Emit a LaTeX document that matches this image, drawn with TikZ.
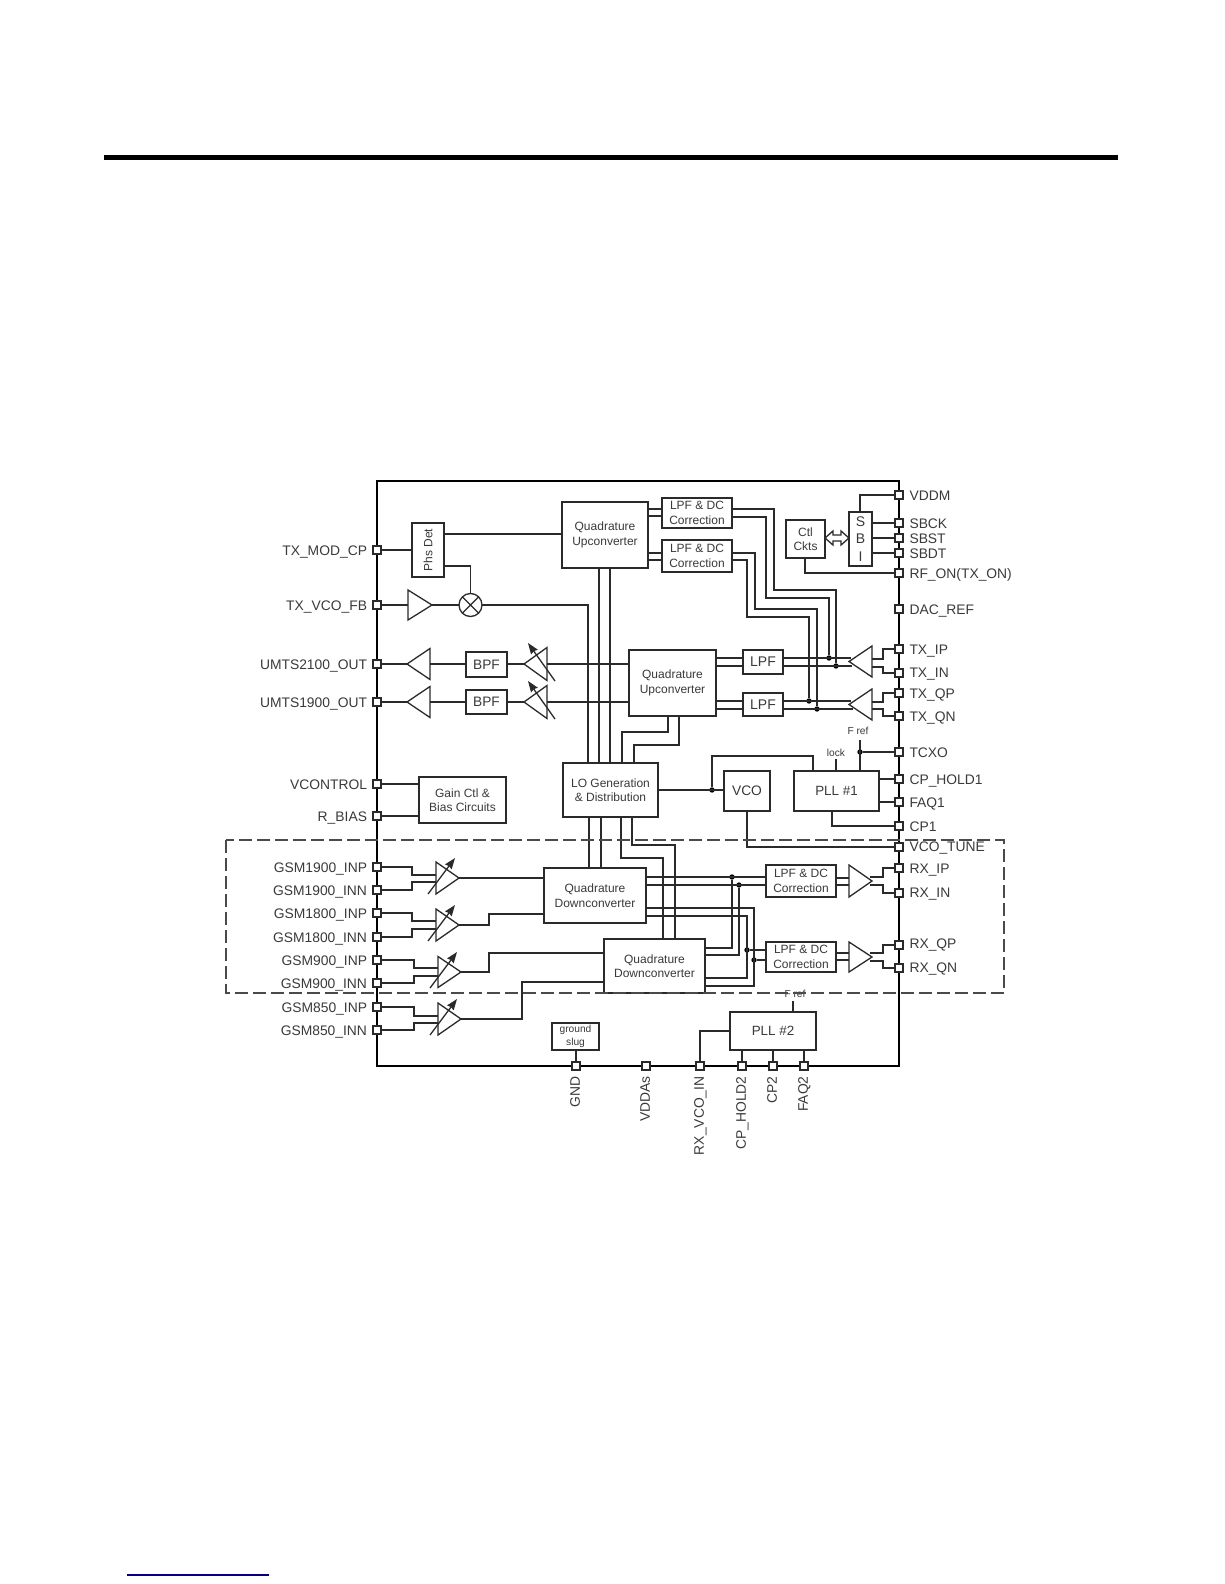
\documentclass[tikz,border=0pt]{standalone}
\usepackage{fontspec}
\setmainfont{Liberation Sans}
\usetikzlibrary{arrows.meta}
\definecolor{ink}{HTML}{2A2A2A}
\definecolor{txt}{HTML}{3A3A3A}
\tikzset{
  wire/.style={draw=ink,line width=1.15pt,line join=miter},
  blk/.style={draw=ink,line width=1.3pt,fill=white,inner sep=0pt,outer sep=0pt,align=center,text=txt},
  fs/.style={font=\fontsize{#1}{14.5}\selectfont},
  pinbox/.style={draw=ink,line width=1.1pt,fill=white,minimum size=8pt,inner sep=0pt,outer sep=0pt},
  pinlabel/.style={text=txt,inner sep=0pt,outer sep=0pt,font=\fontsize{13.85}{14}\selectfont,text height=10pt,text depth=0pt},
  jdot/.style={circle,fill=black,minimum size=5.4pt,inner sep=0pt,outer sep=0pt},
  tiny/.style={text=txt,inner sep=0pt,font=\fontsize{10.2}{12}\selectfont},
  tune/.style={wire,line width=1.3pt,-{Stealth[length=11pt,width=8pt,inset=1pt]}}
}
\newcommand\bx[7][]{%
  \pgfmathsetmacro\bxw{#5-#3}\pgfmathsetmacro\bxh{#6-#4}%
  \node[blk,minimum width=\bxw pt,minimum height=\bxh pt,#1] (#2) at ({(#3+#5)/2},{(#4+#6)/2}) {#7};}
\newcommand\pinL[4][0pt]{%
  \node[pinbox] (#2) at (377,#3) {};
  \node[pinlabel,anchor=east,yshift=#1] (#2l) at (367,#3) {#4};}
\newcommand\pinR[4][0pt]{%
  \node[pinbox] (#2) at (899,#3) {};
  \node[pinlabel,anchor=west,yshift=#1] (#2l) at (909.5,#3) {#4};}
\newcommand\pinB[3]{%
  \node[pinbox] (#1) at (#2,1066) {};
  \node[pinlabel,anchor=east,rotate=90] (#1l) at (#2-1.2,1076.5) {#3};}
% name, base x, tip x, y, half height
\newcommand\tri[5]{%
  \coordinate (#1t) at (#3,#4);
  \coordinate (#1b) at (#2,#4);
  \draw[wire,fill=white,line width=1.3pt] (#2,#4-#5) -- (#3,#4) -- (#2,#4+#5) -- cycle;}
\begin{document}
\begin{tikzpicture}[x=1pt,y=-1pt]
\useasboundingbox (0,0) rectangle (1224,1584);
\fill[white] (0,0) rectangle (1224,1584);
% page rules
\fill[black] (104,155) rectangle (1118,160);
\fill[blue!50!black] (127,1574.3) rectangle (269,1575.7);
% chip outline
\draw[draw=black,line width=2.6pt] (377,481) rectangle (899,1066);

% ---- blocks
\bx[fs=12]{qua}{562}{502}{648}{568}{Quadrature\\Upconverter}
\bx[fs=12]{lpa}{662}{498}{732}{528}{LPF \& DC\\Correction}
\bx[fs=12]{lpb}{662}{540}{732}{572}{LPF \& DC\\Correction}
\bx{phs}{412}{523}{444}{577}{}
\node[rotate=90,text=txt,inner sep=0pt,fs=12] (phst) at (phs.center) {Phs Det};
\node[circle,draw=ink,line width=1.3pt,fill=white,minimum size=23pt,inner sep=0pt,outer sep=0pt] (mix) at (470.5,605) {};
\draw[wire,line width=1.3pt] (mix.north east) -- (mix.south west) (mix.north west) -- (mix.south east);
\bx[fs=13.7]{bpa}{466}{652}{507}{677}{BPF}
\bx[fs=13.7]{bpb}{466}{690}{507}{714}{BPF}
\bx[fs=12]{qub}{629}{650}{716}{716}{Quadrature\\Upconverter}
\bx[fs=14]{lma}{743}{650}{783}{674}{LPF}
\bx[fs=14]{lmb}{743}{693}{783}{716}{LPF}
\bx[fs=12]{ctl}{786}{520}{825}{558}{Ctl\\Ckts}
\bx[font=\fontsize{14}{17.5}\selectfont]{sbi}{849}{512}{872}{566}{S\\B\\I}
\bx[fs=12]{lo}{563}{763}{658}{817}{LO Generation\\\& Distribution}
\bx[fs=13.8]{vco}{724}{771}{770}{811}{VCO}
\bx[fs=13.4]{pla}{794}{771}{879}{811}{PLL \#1}
\bx[fs=12]{gain}{419}{777}{506}{823}{Gain Ctl \&\\Bias Circuits}
\bx[fs=12]{qda}{544}{868}{646}{923}{Quadrature\\Downconverter}
\bx[fs=12]{qdb}{604}{939}{705}{993}{Quadrature\\Downconverter}
\bx[fs=12]{lra}{766}{865}{836}{897}{LPF \& DC\\Correction}
\bx[fs=12]{lrb}{766}{942}{836}{972}{LPF \& DC\\Correction}
\bx[font=\fontsize{10.2}{12.5}\selectfont]{slug}{552}{1023}{599}{1050}{ground\\slug}
\bx[fs=13.4]{plb}{730}{1012}{816}{1050}{PLL \#2}

% ---- pins
\pinL{txmod}{550}{TX\_MOD\_CP}
\pinL{txvco}{605}{TX\_VCO\_FB}
\pinL{umta}{664}{UMTS2100\_OUT}
\pinL{umtb}{702}{UMTS1900\_OUT}
\pinL{vctl}{784}{VCONTROL}
\pinL{rbias}{816}{R\_BIAS}
\pinL{gaip}{867}{GSM1900\_INP}
\pinL{gain2}{890}{GSM1900\_INN}
\pinL{gbip}{913}{GSM1800\_INP}
\pinL{gbin}{937}{GSM1800\_INN}
\pinL{gcip}{960}{GSM900\_INP}
\pinL{gcin}{983}{GSM900\_INN}
\pinL{gdip}{1007}{GSM850\_INP}
\pinL{gdin}{1030}{GSM850\_INN}
\pinR{vddm}{495}{VDDM}
\pinR{sbck}{523}{SBCK}
\pinR{sbst}{538}{SBST}
\pinR{sbdt}{553}{SBDT}
\pinR{rfon}{573}{RF\_ON(TX\_ON)}
\pinR{dac}{609}{DAC\_REF}
\pinR{txip}{649}{TX\_IP}
\pinR[1pt]{txin}{673}{TX\_IN}
\pinR{txqp}{693}{TX\_QP}
\pinR{txqn}{716}{TX\_QN}
\pinR{tcxo}{752}{TCXO}
\pinR{cpha}{779}{CP\_HOLD1}
\pinR{faqa}{802}{FAQ1}
\pinR{cpa}{826}{CP1}
\pinR[0.5pt]{vtun}{847}{VCO\_TUNE}
\pinR{rxip}{868}{RX\_IP}
\pinR[1pt]{rxin}{893}{RX\_IN}
\pinR[1.5pt]{rxqp}{945}{RX\_QP}
\pinR[0.5pt]{rxqn}{968}{RX\_QN}
\pinB{gnd}{576}{GND}
\pinB{vdda}{646}{VDDAs}
\pinB{rxvco}{700}{RX\_VCO\_IN}
\pinB{cphb}{742}{CP\_HOLD2}
\pinB{cpb}{773}{CP2}
\pinB{faqb}{804}{FAQ2}

% ---- amplifiers
\tri{fb}{408}{432}{605}{15}
\tri{pa}{430}{407}{664}{15.5}
\tri{pb}{430}{407}{702}{15.5}
\tri{va}{547}{524}{664}{16.5}
\tri{vb}{547}{524}{702}{16.5}
\tri{ta}{872}{849}{661.5}{15.5}
\tri{tb}{872}{849}{704.5}{15.5}
\tri{ga}{436}{459}{878}{16}
\tri{gb}{436}{459}{925}{16}
\tri{gc}{438}{461}{972}{15.5}
\tri{gd}{438}{461}{1019}{16}
\tri{ra}{849}{872}{881}{16}
\tri{rb}{849}{872}{957}{15}
\draw[tune] (555,681) -- (528,643);
\draw[tune] (555,719) -- (528,681);
\draw[tune] (428,894) -- (455,858);
\draw[tune] (428,941) -- (455,905);
\draw[tune] (430,988) -- (457,952);
\draw[tune] (430,1035) -- (457,999);

% ---- junctions
\node[jdot] (dia) at (829,658) {};
\node[jdot] (dib) at (836,666) {};
\node[jdot] (dqa) at (809,701) {};
\node[jdot] (dqb) at (817,709) {};
\node[jdot] (dref) at (860,752) {};
\node[jdot] (dlo) at (712,790) {};
\node[jdot] (dra) at (732,877) {};
\node[jdot] (drb) at (739,885) {};
\node[jdot] (drc) at (747,950) {};
\node[jdot] (drd) at (754,960) {};

% ---- wires: transmit
\draw[wire] (txmod) -- (phs.west |- txmod);
\draw[wire] (phs.east |- 0,534) -- (qua.west |- 0,534);
\draw[wire] (phs.east |- 0,566) -- (470.5,566) -- (mix.north);
\draw[wire] (txvco) -- (fbb);
\draw[wire] (fbt) -- (mix.west);
\draw[wire] (mix.east) -- (588,605) -- (lo.north -| 588,0);
\draw[wire] (qua.south -| 599,0) -- (lo.north -| 599,0);
\draw[wire] (qua.south -| 610,0) -- (lo.north -| 610,0);
\draw[wire] (qub.south -| 668,0) -- (668,732) -- (622,732) -- (lo.north -| 622,0);
\draw[wire] (qub.south -| 679,0) -- (679,745) -- (634,745) -- (lo.north -| 634,0);
\draw[wire] (qua.east |- 0,509) -- (lpa.west |- 0,509);
\draw[wire] (qua.east |- 0,516) -- (lpa.west |- 0,516);
\draw[wire] (qua.east |- 0,553) -- (lpb.west |- 0,553);
\draw[wire] (qua.east |- 0,560) -- (lpb.west |- 0,560);
\draw[wire] (lpa.east |- 0,509) -- (774,509) -- (774,590) -- (836,590) -- (dib);
\draw[wire] (lpa.east |- 0,517) -- (766,517) -- (766,598) -- (829,598) -- (dia);
\draw[wire] (lpb.east |- 0,553) -- (755,553) -- (755,609) -- (817,609) -- (dqb);
\draw[wire] (lpb.east |- 0,560) -- (747,560) -- (747,617) -- (809,617) -- (dqa);
\draw[wire] (umta) -- (pat);
\draw[wire] (pab) -- (bpa.west |- pab);
\draw[wire] (bpa.east |- vat) -- (vat);
\draw[wire] (vab) -- (qub.west |- vab);
\draw[wire] (umtb) -- (pbt);
\draw[wire] (pbb) -- (bpb.west |- pbb);
\draw[wire] (bpb.east |- vbt) -- (vbt);
\draw[wire] (vbb) -- (qub.west |- vbb);
\draw[wire] (qub.east |- 0,658) -- (lma.west |- 0,658);
\draw[wire] (qub.east |- 0,666) -- (lma.west |- 0,666);
\draw[wire] (qub.east |- 0,701) -- (lmb.west |- 0,701);
\draw[wire] (qub.east |- 0,709) -- (lmb.west |- 0,709);
\draw[wire] (lma.east |- 0,658) -- (851,658);
\draw[wire] (lma.east |- 0,666) -- (852,666);
\draw[wire] (lmb.east |- 0,701) -- (851,701);
\draw[wire] (lmb.east |- 0,709) -- (853,709);
\draw[wire] (872,659) -- (883,659) -- (883,649) -- (txip);
\draw[wire] (872,667) -- (883,667) -- (883,673) -- (txin);
\draw[wire] (872,702) -- (883,702) -- (883,693) -- (txqp);
\draw[wire] (872,709) -- (883,709) -- (883,716) -- (txqn);
% control
\draw[wire] (vddm) -- (860,495) -- (sbi.north -| 860,0);
\draw[wire] (sbi.east |- sbck) -- (sbck);
\draw[wire] (sbi.east |- sbst) -- (sbst);
\draw[wire] (sbi.east |- sbdt) -- (sbdt);
\draw[wire] (ctl.south -| 805,0) -- (805,573) -- (rfon);
\draw[wire,fill=white,line width=1.3pt] (ctl.east |- 0,538) -- (833,531) -- (833,535) -- (841,535) -- (841,531) -- (sbi.west |- 0,538) -- (841,545) -- (841,541) -- (833,541) -- (833,545) -- cycle;
% PLL1 / VCO / LO
\coordinate (frefa) at (860,740);
\node[tiny] (freftxt) at (858,731) {F ref};
\node[tiny] (locktxt) at (836,753) {lock};
\coordinate (locka) at (836,759);
\draw[wire] (frefa) -- (pla.north -| frefa);
\draw[wire] (dref) -- (tcxo);
\draw[wire] (locka) -- (pla.north -| locka);
\draw[wire] (pla.north -| 813,0) -- (813,756) -- (712,756) -- (dlo);
\draw[wire] (lo.east |- dlo) -- (vco.west |- dlo);
\draw[wire] (pla.east |- cpha) -- (cpha);
\draw[wire] (pla.east |- faqa) -- (faqa);
\draw[wire] (pla.south -| 832,0) -- (832,826) -- (cpa);
\draw[wire] (vco.south) -- (747,847) -- (vtun);
\draw[wire] (vctl) -- (gain.west |- vctl);
\draw[wire] (rbias) -- (gain.west |- rbias);
% ---- wires: receive inputs
\draw[wire] (gaip) -- (412,867) -- (412,875) -- (gab |- 0,875);
\draw[wire] (gain2) -- (412,890) -- (412,882) -- (gab |- 0,882);
\draw[wire] (gbip) -- (412,913) -- (412,921) -- (gbb |- 0,921);
\draw[wire] (gbin) -- (412,937) -- (412,929) -- (gbb |- 0,929);
\draw[wire] (gcip) -- (414,960) -- (414,968) -- (gcb |- 0,968);
\draw[wire] (gcin) -- (414,983) -- (414,976) -- (gcb |- 0,976);
\draw[wire] (gdip) -- (414,1007) -- (414,1016) -- (gdb |- 0,1016);
\draw[wire] (gdin) -- (414,1030) -- (414,1023) -- (gdb |- 0,1023);
\draw[wire] (gat) -- (qda.west |- gat);
\draw[wire] (gbt) -- (489,925) -- (489,914) -- (qda.west |- 0,914);
\draw[wire] (gct) -- (489,972) -- (489,953) -- (qdb.west |- 0,953);
\draw[wire] (gdt) -- (522,1019) -- (522,982) -- (qdb.west |- 0,982);
% LO to downconverters
\draw[wire] (lo.south -| 589,0) -- (qda.north -| 589,0);
\draw[wire] (lo.south -| 601,0) -- (qda.north -| 601,0);
\draw[wire] (lo.south -| 621,0) -- (621,858) -- (663,858) -- (qdb.north -| 663,0);
\draw[wire] (lo.south -| 632,0) -- (632,845) -- (675,845) -- (qdb.north -| 675,0);
% downconverter outputs
\draw[wire] (qda.east |- 0,877) -- (lra.west |- 0,877);
\draw[wire] (qda.east |- 0,885) -- (lra.west |- 0,885);
\draw[wire] (qda.east |- 0,908) -- (754,908) -- (754,986) -- (qdb.east |- 0,986);
\draw[wire] (qda.east |- 0,916) -- (747,916) -- (747,978) -- (qdb.east |- 0,978);
\draw[wire] (qdb.east |- 0,948) -- (732,948) -- (dra);
\draw[wire] (qdb.east |- 0,955) -- (739,955) -- (drb);
\draw[wire] (drc) -- (lrb.west |- drc);
\draw[wire] (drd) -- (lrb.west |- drd);
\draw[wire] (lra.east |- 0,878) -- (rab |- 0,878);
\draw[wire] (lra.east |- 0,885) -- (rab |- 0,885);
\draw[wire] (lrb.east |- 0,953) -- (rbb |- 0,953);
\draw[wire] (lrb.east |- 0,960) -- (rbb |- 0,960);
\draw[wire] (870,877) -- (883,877) -- (883,868) -- (rxip);
\draw[wire] (870,885) -- (883,885) -- (883,893) -- (rxin);
\draw[wire] (870,953) -- (883,953) -- (883,945) -- (rxqp);
\draw[wire] (870,961) -- (883,961) -- (883,968) -- (rxqn);
% bottom
\draw[wire] (slug.south -| gnd) -- (gnd);
\draw[wire] (plb.west |- 0,1031) -- (700,1031) -- (rxvco);
\draw[wire] (plb.south -| cphb) -- (cphb);
\draw[wire] (plb.south -| cpb) -- (cpb);
\draw[wire] (plb.south -| faqb) -- (faqb);
\coordinate (frefb) at (793,1001);
\draw[wire] (plb.north -| frefb) -- (frefb);
\node[tiny] (freftxtb) at (795,994) {F ref};
% dashed region
\draw[draw=ink!85,line width=1.3pt,dash pattern=on 13pt off 5pt] (226,840) rectangle (1004,993);
\end{tikzpicture}
\end{document}
